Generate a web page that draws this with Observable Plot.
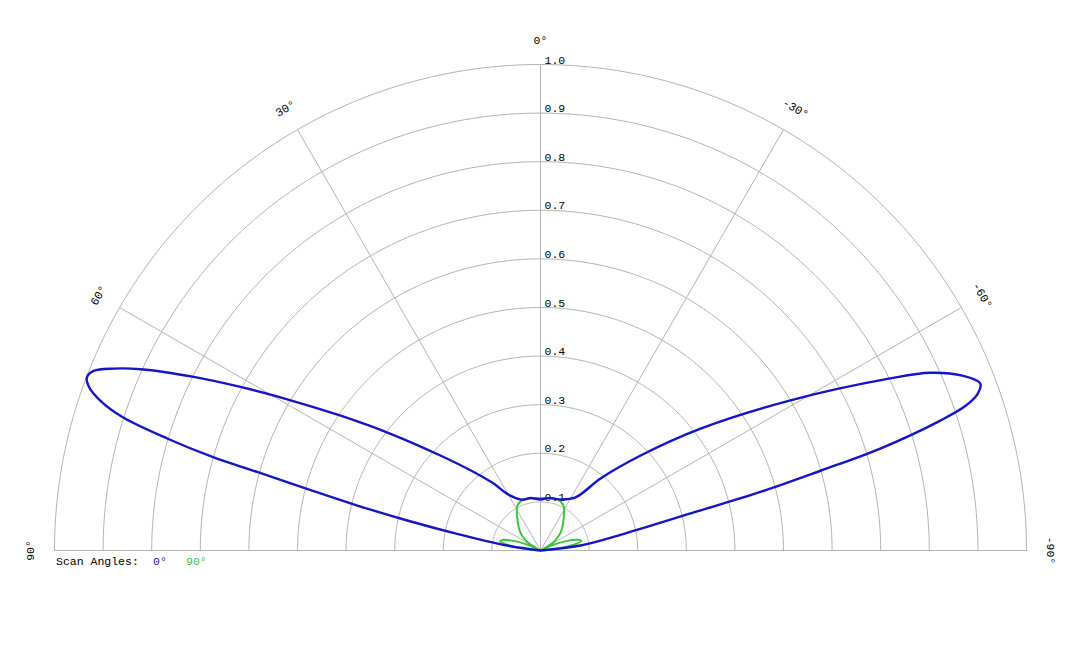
<!DOCTYPE html>
<html>
<head>
<meta charset="utf-8">
<script src="https://cdn.jsdelivr.net/npm/d3@7"></script>
<script src="https://cdn.jsdelivr.net/npm/@observablehq/plot@0.6"></script>
<style>
  html, body { margin: 0; padding: 0; background: #fff; }
  #wrap { position: relative; width: 1080px; height: 648px; }
  #legend { position: absolute; left: 56px; top: 555px; width: 300px; height: 16px; font: 11.5px "Liberation Mono", "DejaVu Sans Mono", monospace; color: #000; white-space: pre; }
  #legend span { position: absolute; top: 0; }
</style>
</head>
<body>
<div id="wrap"><div id="chart"></div><div id="legend"></div></div>
<script>
// ---- data (angle in degrees, 0 = broadside, positive to the left; value = normalised amplitude)
const blueAngles = [90, 81.5, 78.7, 77.3, 76.2, 75.2, 74.5, 74.1, 73.3, 72.3, 71.2, 70.1, 69.1, 68.1, 66.9, 65.6, 63.4, 61.4, 59.0, 56.0, 52.1, 46.5, 40.4, 35.0, 30.4, 19.7, 10.8, 0,
  -10, -20, -33.4, -39.8, -46.5, -52.7, -59.0, -63.8, -65.5, -67.5, -69.2, -70.3, -71.2, -72.0, -73.3, -74.1, -75.0, -76.0, -78.5, -82.9, -90];
const blueValues = [0, 0.069, 0.175, 0.281, 0.388, 0.497, 0.605, 0.699, 0.802, 0.903, 0.957, 0.988, 0.999, 0.991, 0.954, 0.903, 0.798, 0.703, 0.600, 0.496, 0.391, 0.284, 0.212, 0.168, 0.135, 0.111, 0.110, 0.105,
  0.110, 0.112, 0.131, 0.193, 0.284, 0.414, 0.600, 0.802, 0.882, 0.940, 0.968, 0.955, 0.924, 0.865, 0.730, 0.599, 0.480, 0.330, 0.180, 0.083, 0];

const greenAngles = [90, 84, 80, 77, 74, 70, 66, 62, 58, 51, 45, 36, 27, 18, 10, 0, -10, -18, -27, -36, -45, -51, -58, -62, -66, -70, -74, -77, -80, -84, -90];
const greenValues = [0, 0.030, 0.070, 0.085, 0.080, 0.058, 0.030, 0.004, 0.030, 0.049, 0.062, 0.081, 0.104, 0.111, 0.109, 0.108, 0.109, 0.111, 0.104, 0.081, 0.062, 0.049, 0.030, 0.004, 0.030, 0.058, 0.080, 0.086, 0.070, 0.030, 0];

const ringValues = [0.1, 0.2, 0.3, 0.4, 0.5, 0.6, 0.7, 0.8, 0.9, 1.0];
const ringLabels = ["0.1", "0.2", "0.3", "0.4", "0.5", "0.6", "0.7", "0.8", "0.9", "1.0"];
const spokeAngles = [90, 60, 30, 0, -30, -60, -90];
const spokeLabels = ["90°", "60°", "30°", "0°", "-30°", "-60°", "-90°"];
const seriesNames = ["0°", "90°"];
const seriesColors = ["#1515c8", "#3cc43c"];

// ---- helpers
const rad = d => d * Math.PI / 180;
const toXY = (a, r) => ({x: -r * Math.sin(rad(a)), y: r * Math.cos(rad(a))});

const blue = blueAngles.map((a, i) => toXY(a, blueValues[i]));
const green = greenAngles.map((a, i) => toXY(a, greenValues[i]));

const arcs = [];
ringValues.forEach(r => { for (let a = -90; a <= 90; a += 1) arcs.push({ring: r, ...toXY(a, r)}); });
const spokes = spokeAngles.map(a => ({x1: 0, y1: 0, x2: toXY(a, 1).x, y2: toXY(a, 1).y}));
const angleLabels = spokeAngles.map((a, i) => ({...toXY(a, 1.05), label: spokeLabels[i], rot: -a}));
const rLabels = ringValues.map((r, i) => ({x: 0, y: r, label: ringLabels[i]}));

const font = '"Liberation Mono", "DejaVu Sans Mono", monospace';

const chart = Plot.plot({
  width: 1080,
  height: 648,
  x: {domain: [-1, 1], range: [54, 1026], axis: null},
  y: {domain: [0, 1], range: [550, 64], axis: null},
  style: {fontFamily: font, fontSize: "11.5px", background: "#fff"},
  marks: [
    Plot.line(arcs, {x: "x", y: "y", z: "ring", stroke: "#b4b4b4", strokeWidth: 1}),
    Plot.link(spokes, {x1: "x1", y1: "y1", x2: "x2", y2: "y2", stroke: "#b4b4b4", strokeWidth: 1}),
    Plot.text(rLabels, {x: "x", y: "y", text: "label", textAnchor: "start", lineAnchor: "bottom", dx: 4, dy: -1, fill: "#000"}),
    Plot.text(angleLabels, {x: "x", y: "y", text: "label", rotate: "rot", fill: "#000"}),
    Plot.line(green, {x: "x", y: "y", stroke: seriesColors[1], strokeWidth: 2, curve: "catmull-rom"}),
    Plot.line(blue, {x: "x", y: "y", stroke: seriesColors[0], strokeWidth: 2.4, curve: "catmull-rom"})
  ]
});
document.getElementById("chart").appendChild(chart);

const legend = document.getElementById("legend");
legend.innerHTML = '<span style="left:0">Scan Angles:</span>' +
  '<span style="left:97px;color:' + seriesColors[0] + '">' + seriesNames[0] + '</span>' +
  '<span style="left:130px;color:' + seriesColors[1] + '">' + seriesNames[1] + '</span>';
</script>
</body>
</html>
